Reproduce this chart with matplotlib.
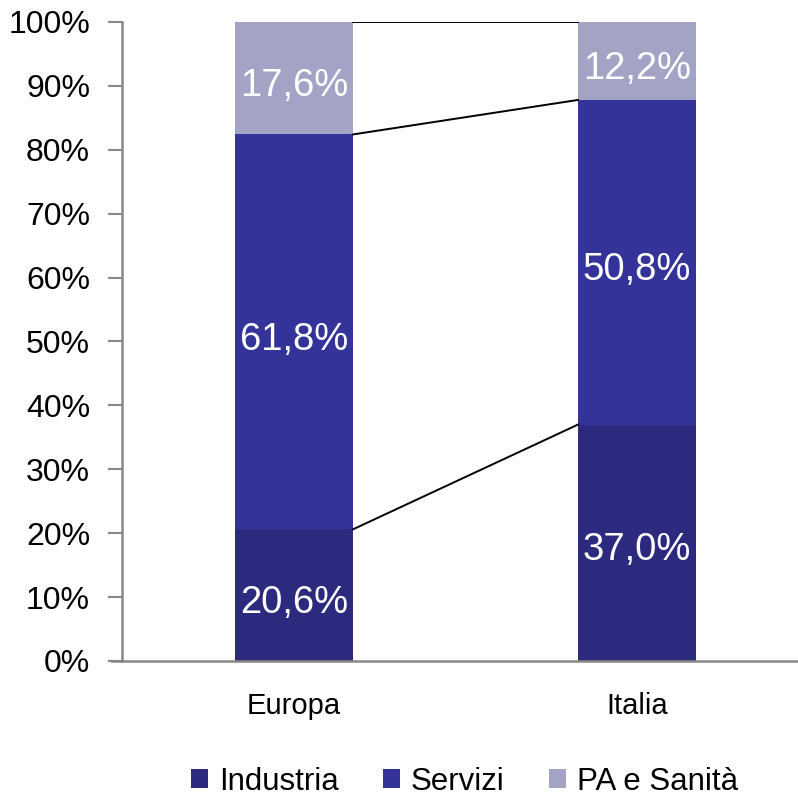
import matplotlib.pyplot as plt
import numpy as np
from matplotlib.ticker import PercentFormatter

plt.rcParams['font.family'] = ['Liberation Sans', 'DejaVu Sans']

categories = ['Europa', 'Italia']
series_names = ['Industria', 'Servizi', 'PA e Sanità']
industria = [20.6, 37.0]
servizi = [61.8, 50.8]
pa_sanita = [17.6, 12.2]
colors = ['#2b2a7e', '#333399', '#a3a3c6']

values = [industria, servizi, pa_sanita]
x = np.arange(len(categories))
width = 0.344

fig = plt.figure(figsize=(7.98, 7.96), dpi=100)
ax = fig.add_axes([0.1529, 0.1696, 0.8458, 0.8028])

bottom = np.zeros(len(categories))
handles = []
for name, vals, col in zip(series_names, values, colors):
    vals = np.array(vals)
    b = ax.bar(x, vals, width, bottom=bottom, color=col, label=name)
    handles.append(b)
    for xi, v, bo in zip(x, vals, bottom):
        ax.text(xi, bo + v / 2 - 1.2, f"{v:.1f}%".replace('.', ','), ha='center', va='center',
                color='white', fontsize=27.5)
    top = bottom + vals
    # linee di serie tra le colonne
    ax.plot([x[0] + width / 2, x[1] - width / 2], top, color='black', lw=1.4, zorder=3)
    bottom = top

ax.set_xlim(-0.501, 1.466)
ax.set_ylim(0, 100)
ax.set_yticks(np.arange(0, 101, 10))
ax.yaxis.set_major_formatter(PercentFormatter(decimals=0))
ax.set_xticks(x)
ax.set_xticklabels(categories)
ax.tick_params(axis='y', labelsize=23, length=10, width=1.5, color='#888888', pad=13)
ax.tick_params(axis='x', labelsize=21, length=0, pad=22)
for s in ['top', 'right']:
    ax.spines[s].set_visible(False)
for s in ['left', 'bottom']:
    ax.spines[s].set_color('#888888')
    ax.spines[s].set_linewidth(1.8)
ax.spines['bottom'].set_bounds(-0.53, 1.466)

fig.legend(handles=handles, loc='center', bbox_to_anchor=(0.582, 0.018), ncol=3,
           frameon=False, fontsize=22.5, handlelength=0.54, handleheight=0.54,
           handletextpad=0.35, columnspacing=1.42, borderaxespad=0)

fig.savefig('out.png', dpi=100)
